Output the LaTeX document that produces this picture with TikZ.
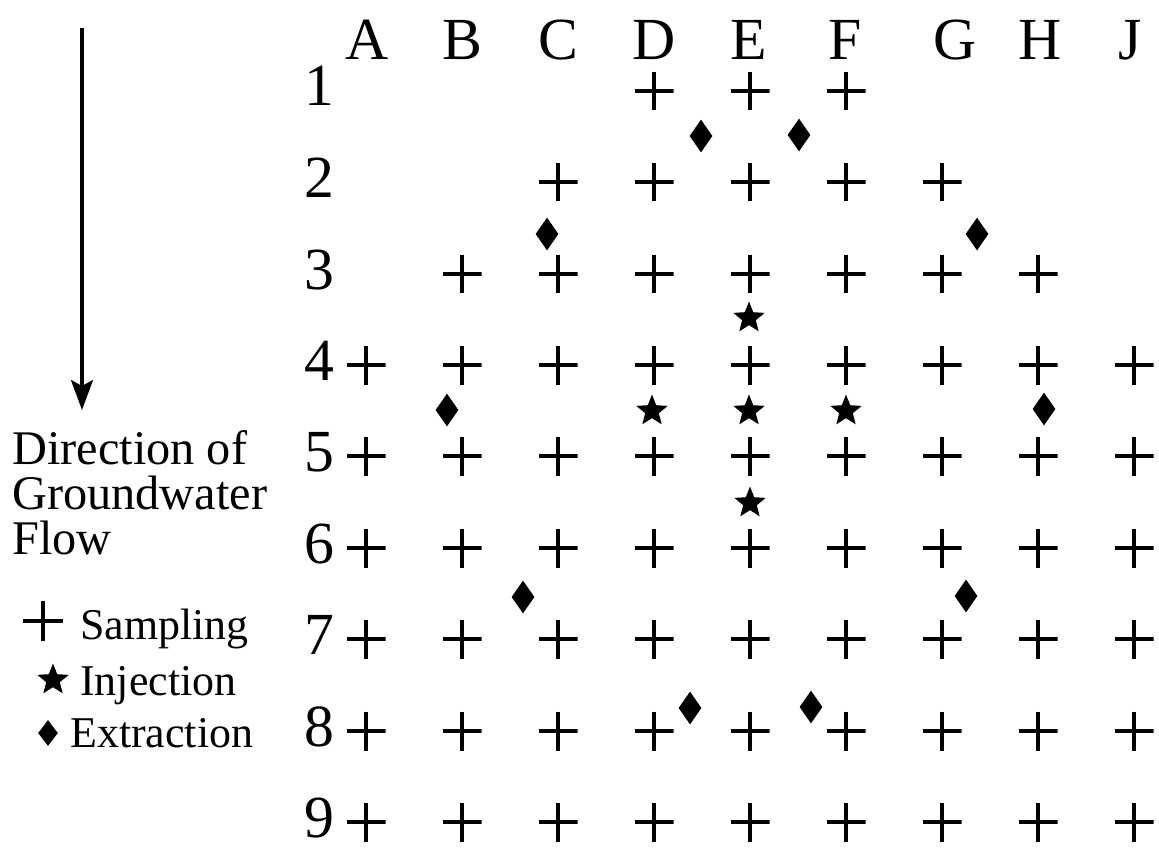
\documentclass[tikz,border=0pt]{standalone}
\usepackage{fontspec}
\setmainfont{Liberation Serif}
\usetikzlibrary{shapes.geometric,arrows.meta}
\tikzset{
  sampling/.style={
    inner sep = 0,
    minimum size = 0.78cm,
    path picture={
      \draw[line width=2.4pt] (path picture bounding box.north) -- (path picture bounding box.south)
        (path picture bounding box.west) -- (path picture bounding box.east);
    }
  },
  injection/.style={
    shape = star,
    star points = 5,
    star point ratio = 2.3,
    inner sep = 0,
    minimum size = 0.66cm,
    fill
  },
  extraction/.style={
    shape = diamond,
    inner sep = 0,
    minimum width = 0.46cm,
    minimum height = 0.66cm,
    fill
  },
  gridlabel/.style={
    anchor = base,
    inner sep = 0,
    font = \fontsize{34}{40}\selectfont
  },
  legendtext/.style={
    anchor = base west,
    inner sep = 0,
    font = \fontsize{25}{30}\selectfont
  },
}

\begin{document}
\begin{tikzpicture}[x=0.02cm, y=-0.02cm]
  \useasboundingbox (0,0) rectangle (1159,848);
  % flow direction
  \coordinate (flowtop) at (82,28);
  \coordinate (flowtip) at (82,410);
  \draw[line width=1.8pt, -{Stealth[length=0.6cm, width=0.44cm, inset=0.12cm]}] (flowtop) -- (flowtip);
  \node[legendtext, font=\fontsize{27.5}{30}\selectfont] (dir1) at (12,464) {Direction of};
  \node[legendtext, font=\fontsize{27.5}{30}\selectfont] (dir2) at (12,509) {Groundwater};
  \node[legendtext, font=\fontsize{27.5}{30}\selectfont] (dir3) at (12,554) {Flow};
  % legend
  \node[sampling, minimum size=0.8cm] (keys) at (43,621) {};
  \node[legendtext] (keysl) at (80,639) {Sampling};
  \node[injection] (keyi) at (53,680) {};
  \node[legendtext] (keyil) at (80,695) {Injection};
  \node[extraction, minimum width=0.4cm, minimum height=0.52cm] (keye) at (48,733) {};
  \node[legendtext] (keyel) at (70,747) {Extraction};
  % column and row labels
  \foreach \c/\x in {A/367,B/462,C/558,D/654,E/749,F/845,G/955,H/1040,J/1130}
    \node[gridlabel] (col\c) at (\x,60) {\c};
  \foreach \r/\y in {1/91,2/182,3/274,4/365,5/456,6/548,7/639,8/731,9/822}
    \node[gridlabel] (row\r) at (319,\y+15) {\r};
  % sampling wells
  \foreach \c/\x in {D/654,E/750,F/846}
    \node[sampling] (s\c1) at (\x,91) {};
  \foreach \c/\x in {C/558,D/654,E/750,F/846,G/942}
    \node[sampling] (s\c2) at (\x,182) {};
  \foreach \c/\x in {B/462,C/558,D/654,E/750,F/846,G/942,H/1038}
    \node[sampling] (s\c3) at (\x,274) {};
  \foreach \c/\x in {A/366,B/462,C/558,D/654,E/750,F/846,G/942,H/1038,J/1134}
    \foreach \r/\y in {4/365,5/456,6/548,7/639,8/731,9/822}
      \node[sampling] (s\c\r) at (\x,\y) {};
  % injection wells
  \node[injection] (inj1) at (749,318) {};
  \node[injection] (inj2) at (652,411) {};
  \node[injection] (inj3) at (749,411) {};
  \node[injection] (inj4) at (846,411) {};
  \node[injection] (inj5) at (750,503) {};
  % extraction wells
  \foreach \n/\x/\y in {1/701/136,2/799/135,3/547/234,4/977/234,5/447/410,6/1044/409,7/523/597,8/966/596,9/690/708,10/811/707}
    \node[extraction] (ext\n) at (\x,\y) {};
\end{tikzpicture}
\end{document}
